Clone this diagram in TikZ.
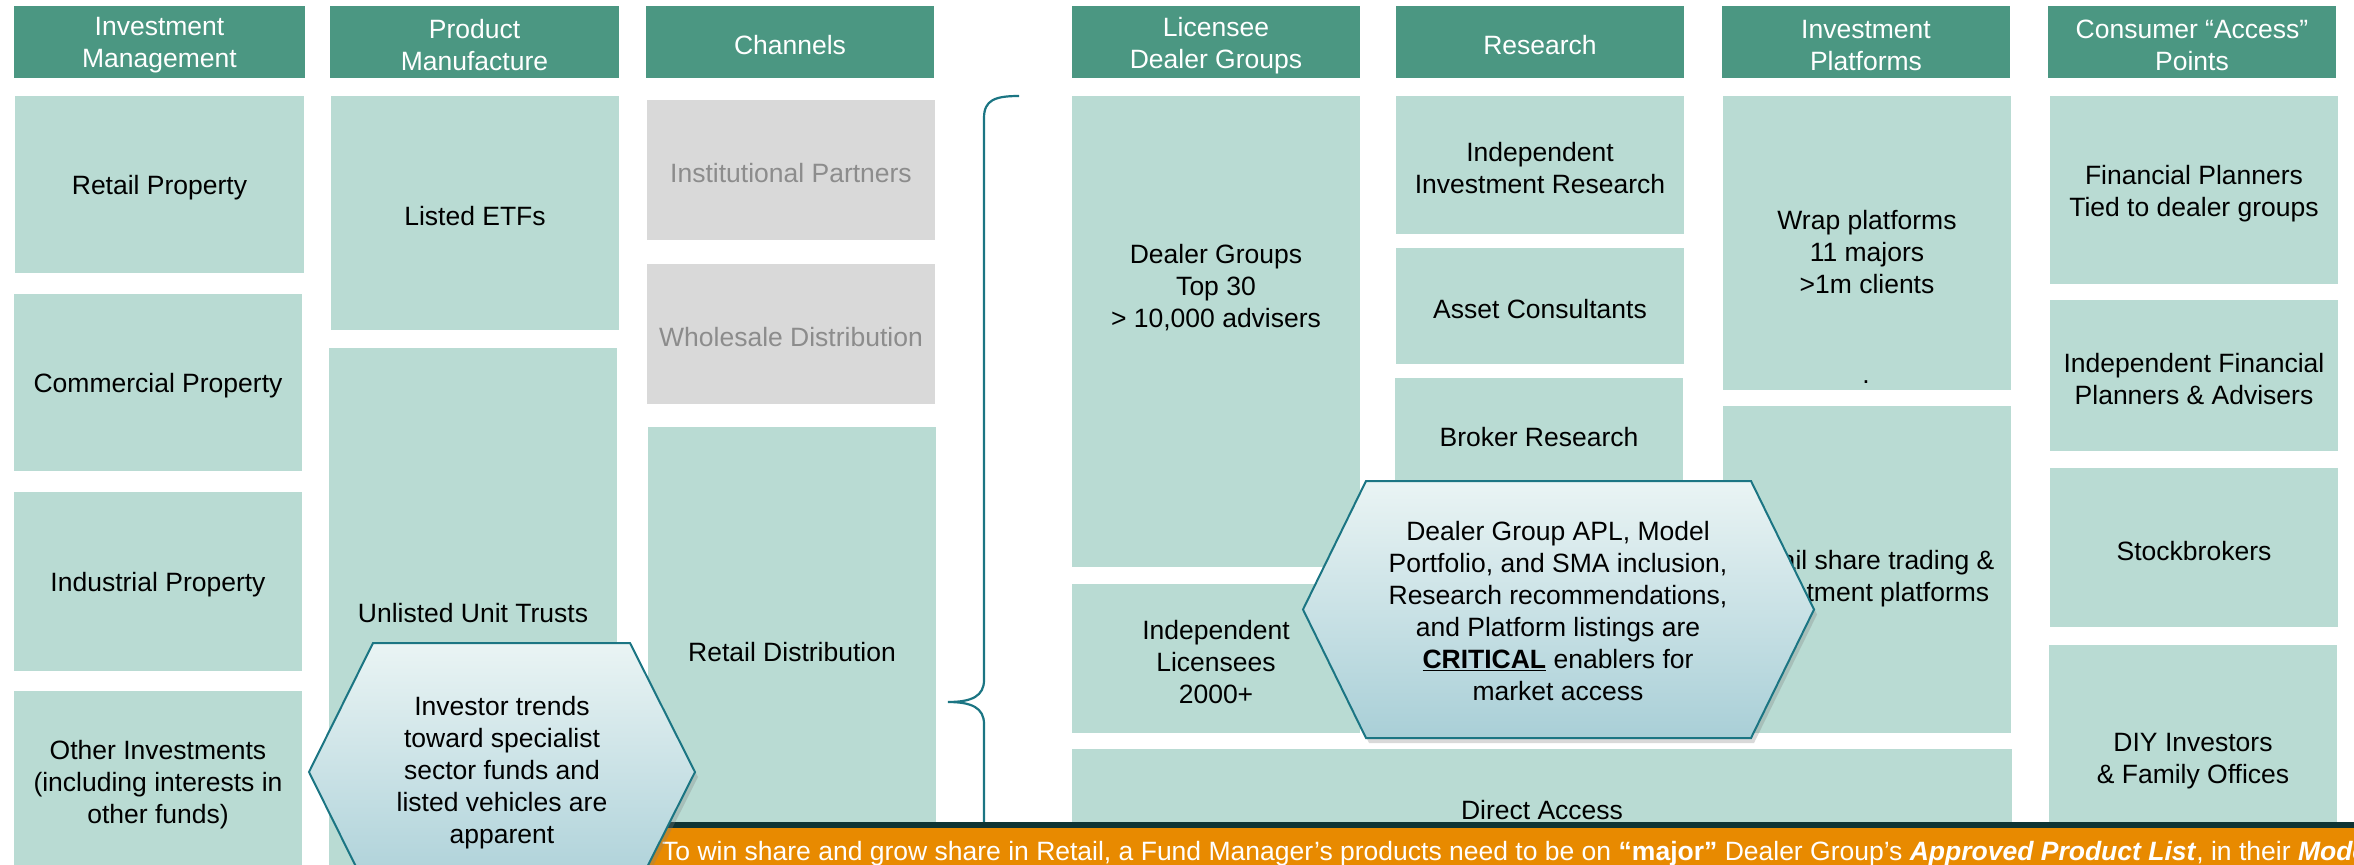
\documentclass[tikz,border=0pt]{standalone}
\usepackage{fontspec}
\setmainfont{Liberation Sans}
\usetikzlibrary{shadows}

\definecolor{hdr}{HTML}{4B9782}
\definecolor{cell}{HTML}{B9DBD3}
\definecolor{greycell}{HTML}{D9D9D9}
\definecolor{greytext}{HTML}{8C8C8C}
\definecolor{edgeteal}{HTML}{1B7583}
\definecolor{bannerorange}{HTML}{E88A00}
\definecolor{bannerdark}{HTML}{0E3434}
\definecolor{hexTop}{HTML}{EAF4F4}
\definecolor{hexBottom}{HTML}{A9CFD7}

% a filled pane with its label at the centre
% #1 extra options, #2 name, #3,#4 top-left, #5,#6 bottom-right, #7 label
\newcommand\pane[7][]{%
  \path[panefill,#1] (#3,#4) rectangle (#5,#6);
  \node[panetext,#1] (#2) at ({(#3+#5)/2},{(#4+#6)/2}) {#7};}

\begin{document}
\begin{tikzpicture}[x=1pt,y=-1pt,
  every node/.style={font=\fontsize{26.5}{32}\selectfont, align=center, inner sep=0pt},
  panefill/.style={fill=cell},
  panetext/.style={text=black, yshift=-3.5pt},
  headpane/.style={fill=hdr, text=white},
  greypane/.style={fill=greycell, text=greytext},
  bracestyle/.style={draw=edgeteal, line width=2.2pt},
  hexstyle/.style={draw=edgeteal, line width=2pt, top color=hexTop, bottom color=hexBottom,
    drop shadow={opacity=0.3, shadow xshift=3pt, shadow yshift=-5pt}},
]
\useasboundingbox (0,0) rectangle (2354,865);
\begin{scope}
\clip (0,0) rectangle (2354,865);

% column headers
\pane[headpane]{h1}{14}{6}{305}{78}{Investment\\Management}
\pane[headpane]{h2}{330}{6}{619}{78}{Product\\Manufacture}
\pane[headpane]{h3}{646}{6}{934}{78}{Channels}
\pane[headpane]{h4}{1072}{6}{1360}{78}{Licensee\\Dealer Groups}
\pane[headpane]{h5}{1396}{6}{1684}{78}{Research}
\pane[headpane]{h6}{1722}{6}{2010}{78}{Investment\\Platforms}
\pane[headpane]{h7}{2048}{6}{2336}{78}{Consumer “Access”\\Points}

% investment management
\pane{c1a}{15}{96}{304}{273}{Retail Property}
\pane{c1b}{14}{294}{302}{471}{Commercial Property}
\pane{c1c}{14}{492}{302}{671}{Industrial Property}
\pane{c1d}{14}{691}{302}{871}{Other Investments\\(including interests in\\other funds)}

% product manufacture
\pane{c2a}{331}{96}{619}{330}{Listed ETFs}
\pane{c2b}{329}{348}{617}{871}{Unlisted Unit Trusts}

% channels
\pane[greypane]{c3a}{647}{100}{935}{240}{Institutional Partners}
\pane[greypane]{c3b}{647}{264}{935}{404}{Wholesale Distribution}
\pane{c3c}{648}{427}{936}{871}{Retail Distribution}

% licensee dealer groups
\pane{c4a}{1072}{96}{1360}{567}{}
\node[panetext] (c4alabel) at (1216,284) {Dealer Groups\\Top 30\\> 10,000 advisers};
\pane{c4b}{1072}{584}{1360}{733}{Independent\\Licensees\\2000+}
\pane{c4c}{1072}{749}{2012}{865}{Direct Access}

% research
\pane{c5a}{1396}{96}{1684}{234}{Independent\\Investment Research}
\pane{c5b}{1396}{248}{1684}{364}{Asset Consultants}
\pane{c5c}{1395}{378}{1683}{490}{Broker Research}

% investment platforms
\pane{c6a}{1723}{96}{2011}{390}{}
\node[panetext] (c6alabel) at (1867,249) {Wrap platforms\\11 majors\\>1m clients};
\node[text=black, anchor=base] (c6adot) at (1866,383) {.};
\pane{c6b}{1723}{406}{2011}{733}{}
\node[panetext] (c6blabel) at (1867,575) {Retail share trading \&\\investment platforms};

% consumer access points
\pane{c7a}{2050}{96}{2338}{284}{Financial Planners\\Tied to dealer groups}
\pane{c7b}{2050}{300}{2338}{451}{Independent Financial\\Planners \& Advisers}
\pane{c7c}{2050}{468}{2338}{627}{Stockbrokers}
\pane{c7d}{2049}{645}{2337}{871}{DIY Investors\\\& Family Offices}

% brace grouping the retail side
\coordinate (braceTop) at (1019,96);
\coordinate (braceTip) at (948,702);
\coordinate (braceEnd) at (984,880);
\draw[bracestyle] (braceTop) .. controls (995,96) and (984,100) .. (984,118)
  -- (984,680) .. controls (984,696) and (972,702) .. (braceTip)
  .. controls (972,702) and (984,708) .. (984,724) -- (braceEnd);

% banner along the bottom
\fill[bannerdark] (640,822) rectangle (2360,828);
\fill[bannerorange] (640,828) rectangle (2360,875);
\node[anchor=base west, text=white] (banner) at (662,860)
  {To win share and grow share in Retail, a Fund Manager’s products need to be on \textbf{“major”} Dealer Group’s \textbf{\textit{Approved Product List}}, in their \textbf{\textit{Model}}};

% call-out hexagons
\path[hexstyle] (373,643) -- (630,643) -- (695,772) -- (630,901) -- (373,901) -- (309,772) -- cycle;
\node (hexA) at (502,773) {Investor trends\\toward specialist\\sector funds and\\listed vehicles are\\apparent};

\path[hexstyle] (1366,481) -- (1751,481) -- (1814,609.5) -- (1751,738) -- (1366,738) -- (1303,609.5) -- cycle;
\node (hexB) at (1558,611) {Dealer Group APL, Model\\Portfolio, and SMA inclusion,\\Research recommendations,\\and Platform listings are\\\underline{\textbf{CRITICAL}} enablers for\\market access};
\end{scope}
\end{tikzpicture}
\end{document}
